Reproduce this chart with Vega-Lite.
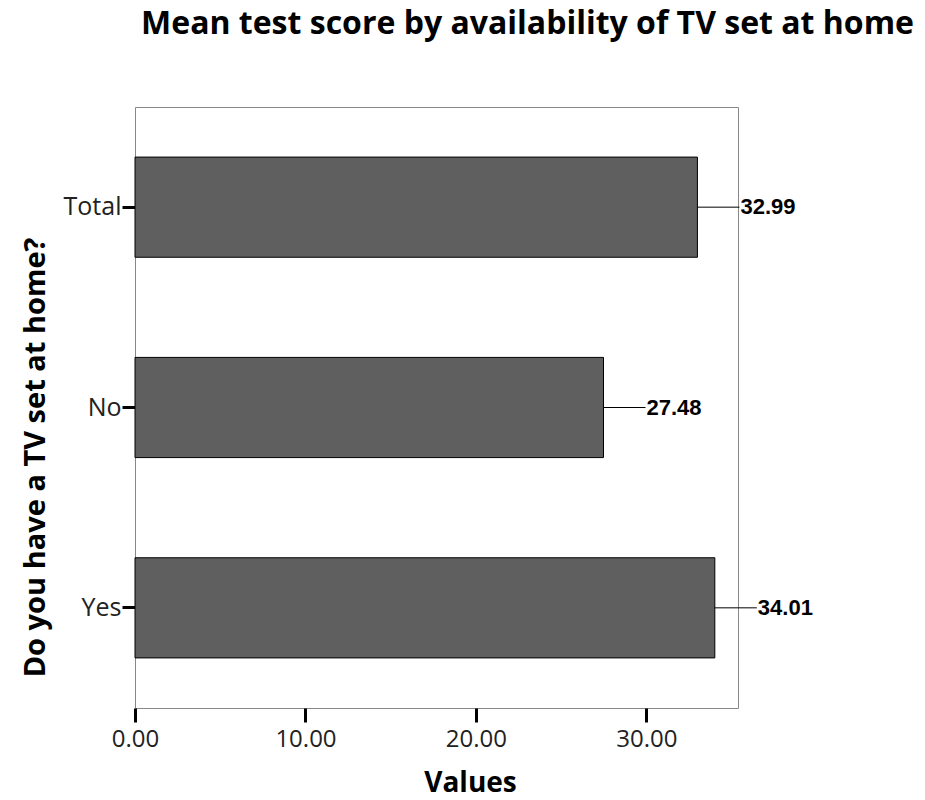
{
  "$schema": "https://vega.github.io/schema/vega-lite/v6.json",
  "width": 603,
  "height": 601,
  "autosize": "none",
  "padding": {"left": 135, "top": 107, "right": 187, "bottom": 92},
  "background": "white",
  "title": {
    "text": "Mean test score by availability of TV set at home",
    "font": "Open Sans",
    "fontSize": 32,
    "fontWeight": "bold",
    "color": "#000000",
    "anchor": "middle",
    "dx": 91,
    "offset": 51,
    "baseline": "middle"
  },
  "config": {
    "view": {"stroke": "#888888", "strokeWidth": 1},
    "axis": {"grid": false, "domain": false}
  },
  "data": {
    "values": [
      {"group": "Total", "value": 32.99, "label": "32.99"},
      {"group": "No", "value": 27.48, "label": "27.48"},
      {"group": "Yes", "value": 34.01, "label": "34.01"}
    ]
  },
  "encoding": {
    "y": {
      "field": "group",
      "type": "nominal",
      "sort": ["Total", "No", "Yes"],
      "scale": {"paddingInner": 0.5, "paddingOuter": 0.25},
      "axis": {
        "title": "Do you have a TV set at home?",
        "titleFont": "Open Sans",
        "titleFontSize": 29,
        "titleFontWeight": "bold",
        "titleColor": "#000000",
        "titleAngle": -90,
        "titleX": -100,
        "titleY": 350,
        "titleAlign": "center",
        "titleBaseline": "middle",
        "labelFont": "Open Sans",
        "labelFontSize": 25,
        "labelFontWeight": "normal",
        "labelColor": "#222222",
        "labelPadding": 1,
        "tickColor": "#000000",
        "tickWidth": 3,
        "tickSize": 13
      }
    }
  },
  "layer": [
    {
      "mark": {"type": "bar", "color": "#5f5f5f", "stroke": "#000000", "strokeWidth": 1},
      "encoding": {
        "x": {
          "field": "value",
          "type": "quantitative",
          "scale": {"domain": [0, 35.37], "nice": false, "zero": true},
          "axis": {
            "title": "Values",
            "titleFont": "Open Sans",
            "titleFontSize": 28,
            "titleFontWeight": "bold",
            "titleColor": "#000000",
            "titleX": 335,
            "titleY": 75,
            "titleAlign": "center",
            "titleBaseline": "middle",
            "values": [0, 10, 20, 30],
            "format": ".2f",
            "labelFlush": false,
            "labelFont": "Open Sans",
            "labelFontSize": 24,
            "labelColor": "#222222",
            "labelPadding": 5,
            "tickColor": "#000000",
            "tickWidth": 3,
            "tickSize": 14
          }
        }
      }
    },
    {
      "mark": {"type": "rule", "color": "#000000", "strokeWidth": 1, "x2Offset": 42},
      "encoding": {
        "x": {"field": "value", "type": "quantitative"},
        "x2": {"field": "value"}
      }
    },
    {
      "mark": {"type": "text", "align": "left", "baseline": "middle", "dx": 43, "font": "Liberation Sans", "fontSize": 22, "fontWeight": "bold", "color": "#000000"},
      "encoding": {
        "x": {"field": "value", "type": "quantitative"},
        "text": {"field": "label"}
      }
    }
  ]
}
